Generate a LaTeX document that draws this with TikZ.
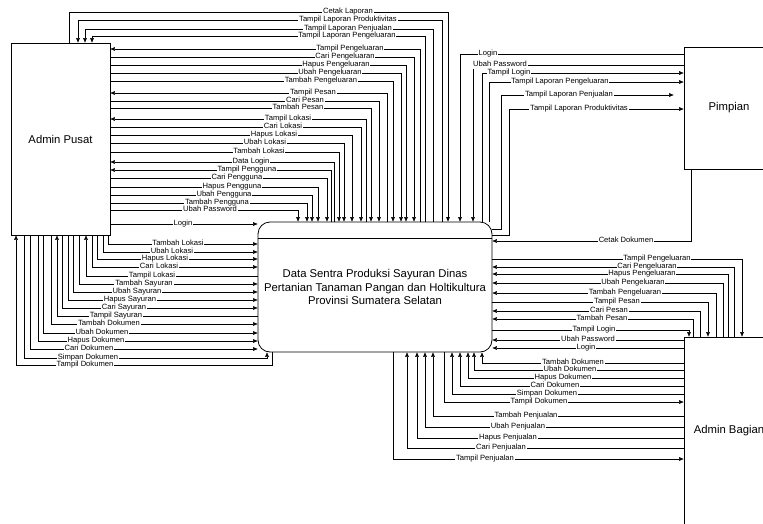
\documentclass[tikz,border=0pt]{standalone}
\usepackage{fontspec}
\setmainfont{Liberation Sans}
\usetikzlibrary{arrows.meta,calc}
\pgfdeclarelayer{fg}
\pgfsetlayers{main,fg}
\begin{document}
\begin{tikzpicture}[x=1pt,y=-1pt,
  line width=0.7pt,
  tocen/.style={-{Triangle[length=4.5pt,width=3.6pt]}},
  toext/.style={{Triangle[length=4.5pt,width=3.6pt]}-},
  lbl/.style={fill=white,inner xsep=0.8pt,inner ysep=0.2pt,text height=5.4pt,text depth=1.5pt,font=\fontsize{7.6}{8}\selectfont},
  ent/.style={draw,line width=0.8pt,font=\fontsize{11.3}{13.5}\selectfont},
]
\useasboundingbox (0,0) rectangle (763,523);
\clip (0,0) rectangle (763,523);

% entities
\node[ent,minimum width=99pt,minimum height=192pt] (ap) at (60.5,139) {Admin Pusat};
\node[ent,rounded corners=12pt,minimum width=234pt,minimum height=130pt,align=center] (c) at (375,287)
  {Data Sentra Produksi Sayuran Dinas\\Pertanian Tanaman Pangan dan Holtikultura\\Provinsi Sumatera Selatan};
\draw[line width=0.8pt] (c.west |- 0,238) -- (c.east |- 0,238);
\node[ent,minimum width=90pt,minimum height=122pt] (pm) at (729,108) {Pimpian};
\node[ent,minimum width=90pt,minimum height=188pt] (ab) at (729,431) {Admin Bagian};

% Admin Pusat top -> central top
\foreach \xa/\y/\xb/\lx/\t/\d in {
  69/12/448/348/Cetak Laporan/tocen,
  78/20/442/348/Tampil Laporan Produktivitas/toext,
  85/29/433/348/Tampil Laporan Penjualan/toext,
  92/36/425/347/Tampil Laporan Pengeluaran/toext}
{\draw[\d] (ap.north -| \xa,0) |- (\xb,\y) -- (c.north -| \xb,0);
 \begin{pgfonlayer}{fg}\node[lbl] at (\lx,\y) {\t};\end{pgfonlayer}}

% Admin Pusat east -> central top
\foreach \y/\xb/\lx/\t/\d in {
  49/420/350/Tampil Pengeluaran/toext,
  57/414/345/Cari Pengeluaran/tocen,
  65/406/336/Hapus Pengeluaran/tocen,
  73/401/330/Ubah Pengeluaran/tocen,
  81/393/321/Tambah Pengeluaran/tocen,
  93/387/313/Tampil Pesan/toext,
  101/379/305/Cari Pesan/tocen,
  108/371/298/Tambah Pesan/tocen,
  119/366/288/Tampil Lokasi/toext,
  127/361/283/Cari Lokasi/tocen,
  135/352/274/Hapus Lokasi/tocen,
  143/344/265/Ubah Lokasi/tocen,
  152/339/259/Tambah Lokasi/tocen,
  162/334/251/Data Login/toext,
  170/331/247/Tampil Pengguna/toext,
  178/327/237/Cari Pengguna/tocen,
  187/318/232/Hapus Pengguna/tocen,
  195/312/224/Ubah Pengguna/tocen,
  203/307/217/Tambah Pengguna/tocen,
  210/298/210/Ubah Password/tocen}
{\draw[\d] (ap.east |- 0,\y) -- (\xb,\y) -- (c.north -| \xb,0);
 \begin{pgfonlayer}{fg}\node[lbl] at (\lx,\y) {\t};\end{pgfonlayer}}

\draw[tocen] (ap.east |- 0,224) -- (c.west |- 0,224);
\begin{pgfonlayer}{fg}\node[lbl] at (183,224) {Login};\end{pgfonlayer}

% Admin Pusat south -> central west
\foreach \xa/\y/\lx/\t/\d in {
  108/244/178/Tambah Lokasi/tocen,
  103/252/172/Ubah Lokasi/tocen,
  97/259/165/Hapus Lokasi/tocen,
  92/267/159/Cari Lokasi/tocen,
  86/276/152/Tampil Lokasi/toext,
  79/284/144/Tambah Sayuran/tocen,
  73/292/137/Ubah Sayuran/tocen,
  68/300/130/Hapus Sayuran/tocen,
  62/308/124/Cari Sayuran/tocen,
  57/316/116/Tampil Sayuran/toext,
  51/324/109/Tambah Dokumen/tocen,
  43/333/102/Ubah Dokumen/tocen,
  38/341/96/Hapus Dokumen/tocen,
  30/349/89/Cari Dokumen/tocen}
{\draw[\d] (ap.south -| \xa,0) |- (c.west |- 0,\y);
 \begin{pgfonlayer}{fg}\node[lbl] at (\lx,\y) {\t};\end{pgfonlayer}}

\draw[tocen] (ap.south -| 24,0) |- (267,358) -- (c.south -| 267,0);
\draw[toext] (ap.south -| 16,0) |- (272,365) -- (c.south -| 272,0);
\begin{pgfonlayer}{fg}
\node[lbl] at (88,358) {Simpan Dokumen};
\node[lbl] at (85,365) {Tampil Dokumen};
\end{pgfonlayer}

% Pimpian
\foreach \y/\xb/\lx/\t/\d in {
  54/460/488/Login/tocen,
  65/473/500/Ubah Password/tocen,
  73/482/509/Tampil Login/toext,
  82/489/560/Tampil Laporan Pengeluaran/toext}
{\draw[\d] (pm.west |- 0,\y) -| (c.north -| \xb,0);
 \begin{pgfonlayer}{fg}\node[lbl] at (\lx,\y) {\t};\end{pgfonlayer}}

\draw[tocen,shorten >=10pt] (c.east |- 0,229) -| (501,95) -- (pm.west |- 0,95);
\draw[tocen] (c.east |- 0,235) -| (509,109) -- (pm.west |- 0,109);
\draw[tocen] (pm.south -| 691,0) |- (c.east |- 0,241);
\begin{pgfonlayer}{fg}
\node[lbl] at (569,95) {Tampil Laporan Penjualan};
\node[lbl] at (579,109) {Tampil Laporan Produktivitas};
\node[lbl] at (626,241) {Cetak Dokumen};
\end{pgfonlayer}

% Admin Bagian north -> central east
\foreach \xb/\y/\lx/\t/\d in {
  742/259/657/Tampil Pengeluaran/toext,
  734/267/647/Cari Pengeluaran/tocen,
  728/274/642/Hapus Pengeluaran/tocen,
  723/283/633/Ubah Pengeluaran/tocen,
  716/293/625/Tambah Pengeluaran/tocen,
  708/302/617/Tampil Pesan/toext,
  700/311/609/Cari Pesan/tocen,
  693/319/602/Tambah Pesan/tocen,
  689/330/594/Tampil Login/toext}
{\draw[\d] (ab.north -| \xb,0) |- (c.east |- 0,\y);
 \begin{pgfonlayer}{fg}\node[lbl] at (\lx,\y) {\t};\end{pgfonlayer}}

% Admin Bagian west -> central east
\foreach \y/\lx/\t in {340/588/Ubah Password, 348/586/Login}
{\draw[tocen] (ab.west |- 0,\y) -- (c.east |- 0,\y);
 \begin{pgfonlayer}{fg}\node[lbl] at (\lx,\y) {\t};\end{pgfonlayer}}

% Admin Bagian west -> central south
\foreach \y/\xc/\lx/\t/\d in {
  363/482/573/Tambah Dokumen/tocen,
  370/474/570/Ubah Dokumen/tocen,
  378/468/563/Hapus Dokumen/tocen,
  386/460/555/Cari Dokumen/tocen,
  394/452/547/Simpan Dokumen/tocen,
  402/444/539/Tampil Dokumen/toext,
  416/433/526/Tambah Penjualan/tocen,
  427/425/518/Ubah Penjualan/tocen,
  438/417/508/Hapus Penjualan/tocen,
  448/407/501/Cari Penjualan/tocen,
  459/393/485/Tampil Penjualan/toext}
{\draw[\d] (ab.west |- 0,\y) -| (c.south -| \xc,0);
 \begin{pgfonlayer}{fg}\node[lbl] at (\lx,\y) {\t};\end{pgfonlayer}}

\end{tikzpicture}
\end{document}
